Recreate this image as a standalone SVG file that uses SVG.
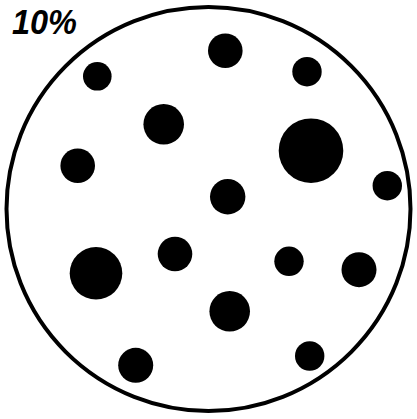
<svg xmlns="http://www.w3.org/2000/svg" width="417" height="419" viewBox="0 0 417 419">
<style>
.dot{fill:#000}
.plate{fill:#fff;stroke:#000;stroke-width:4}
.lbl{font-family:"Liberation Sans",Arial,sans-serif;font-weight:bold;font-style:italic;font-size:35px;fill:#000}
</style>
<rect width="417" height="419" fill="#fff"/>
<g id="plate">
<circle class="plate" cx="208.5" cy="209" r="202"/>
</g>
<g id="dots">
<circle class="dot" cx="97.3" cy="76.3" r="14.3"/>
<circle class="dot" cx="163.7" cy="124.3" r="20.3"/>
<circle class="dot" cx="77.7" cy="165.7" r="17.3"/>
<circle class="dot" cx="225.3" cy="50.7" r="17.3"/>
<circle class="dot" cx="307" cy="71.7" r="14.7"/>
<circle class="dot" cx="311" cy="150.7" r="32.3"/>
<circle class="dot" cx="387.3" cy="185.7" r="14.7"/>
<circle class="dot" cx="227.7" cy="196.7" r="17.7"/>
<circle class="dot" cx="96" cy="273.3" r="26.3"/>
<circle class="dot" cx="175" cy="254" r="17.3"/>
<circle class="dot" cx="135.7" cy="365.3" r="17.5"/>
<circle class="dot" cx="289" cy="261.3" r="14.7"/>
<circle class="dot" cx="359" cy="269.7" r="17.5"/>
<circle class="dot" cx="229.7" cy="311.3" r="20.3"/>
<circle class="dot" cx="309.7" cy="356" r="14.7"/>
</g>
<g id="label">
<text class="lbl" x="12" y="34" textLength="65" lengthAdjust="spacingAndGlyphs">10%</text>
</g>
</svg>
